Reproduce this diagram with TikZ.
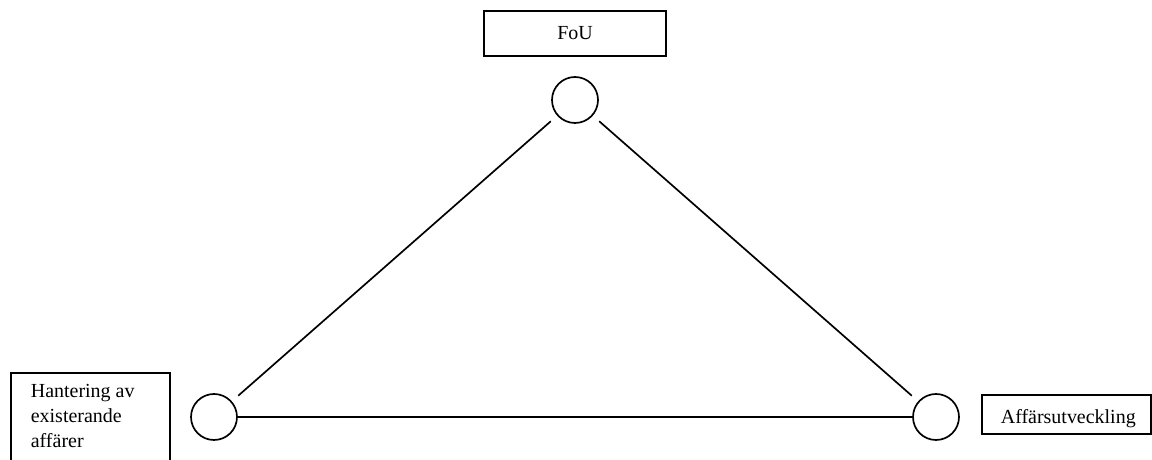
\documentclass[tikz,border=0pt]{standalone}
\usepackage{fontspec}
\setmainfont{Liberation Serif}
\usetikzlibrary{positioning}

\begin{document}
\begin{tikzpicture}[
    line width=1.2pt,
    box/.style={
        rectangle, draw=black, inner sep=0pt,
        font=\fontsize{14.2pt}{17.8pt}\selectfont
    },
    dot/.style={
        circle, draw=black, inner sep=0pt, minimum size=1.15cm
    },
    box_text/.style={
        inner sep=0pt, align=left,
        font=\fontsize{14.2pt}{17.8pt}\selectfont
    },
    link/.style={draw=black, shorten >=0.21cm, shorten <=0.21cm}
]
    \useasboundingbox (0,0) rectangle (28.8,11.5);

    % Top: FoU
    \node[box, minimum width=4.55cm, minimum height=1.125cm] (fou) at (14.375, 10.6625) {FoU};
    \node[dot] (top_dot) at (14.375, 9.0) {};

    % Bottom left: existing business
    \node[box, anchor=north west, minimum width=3.975cm, minimum height=2.8cm] (hantering) at (0.25, 2.2) {};
    \node[box_text, anchor=base west] (hantering_txt) at (0.75, 0.3) {Hantering av\\existerande\\affärer};
    \node[dot] (left_dot) at (5.35, 1.075) {};

    % Bottom right: business development
    \node[box, anchor=north west, minimum width=4.235cm, minimum height=0.975cm] (affars) at (24.525, 1.65) {};
    \begin{scope}
        \clip (affars.north west) rectangle ([yshift=0.16cm]affars.south east);
        \node[box_text, anchor=base west] (affars_txt) at (25.0, 0.9) {Affärsutveckling};
    \end{scope}
    \node[dot] (right_dot) at (23.4, 1.075) {};

    % Connections
    \draw[link] (top_dot) -- (left_dot);
    \draw[link] (top_dot) -- (right_dot);
    \draw (left_dot) -- (right_dot);

\end{tikzpicture}
\end{document}
